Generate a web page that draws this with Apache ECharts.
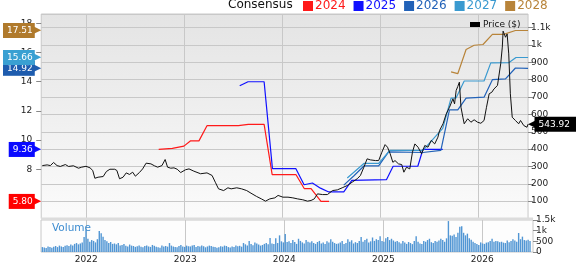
<!DOCTYPE html>
<html>
<head>
<meta charset="utf-8">
<script src="https://cdn.jsdelivr.net/npm/echarts@6/dist/echarts.min.js"></script>
<style>
  html, body { margin: 0; padding: 0; background: #fff; }
  #chart { width: 579px; height: 264px; }
</style>
</head>
<body>
<div id="chart"></div>
<script>
// share price ($)
const priceData = [
  ['2021-07-22', 305], ['2021-08-09', 309], ['2021-08-21', 305], ['2021-09-02', 323], ['2021-09-15', 305],
  ['2021-09-27', 300], ['2021-10-16', 311], ['2021-10-28', 300], ['2021-11-15', 304], ['2021-12-04', 290],
  ['2021-12-16', 296], ['2022-01-01', 301], ['2022-01-16', 292], ['2022-01-26', 277], ['2022-02-03', 232],
  ['2022-02-15', 238], ['2022-03-06', 242], ['2022-03-18', 271], ['2022-03-31', 284], ['2022-04-18', 284],
  ['2022-04-26', 277], ['2022-05-06', 229], ['2022-05-19', 238], ['2022-05-31', 263], ['2022-06-12', 254],
  ['2022-06-24', 267], ['2022-07-04', 244], ['2022-07-19', 265], ['2022-07-31', 286], ['2022-08-13', 319],
  ['2022-08-31', 315], ['2022-09-13', 304], ['2022-09-25', 296], ['2022-10-11', 305], ['2022-10-23', 340],
  ['2022-11-01', 296], ['2022-11-13', 290], ['2022-11-25', 292], ['2022-12-07', 284], ['2022-12-20', 265],
  ['2023-01-07', 281], ['2023-01-20', 286], ['2023-02-07', 273], ['2023-03-04', 258], ['2023-03-28', 263],
  ['2023-04-16', 248], ['2023-04-28', 209], ['2023-05-10', 171], ['2023-05-29', 161], ['2023-06-14', 177],
  ['2023-06-26', 171], ['2023-07-17', 177], ['2023-08-04', 171], ['2023-08-23', 161], ['2023-09-08', 146],
  ['2023-09-29', 127], ['2023-10-17', 113], ['2023-11-01', 100], ['2023-11-17', 113], ['2023-12-06', 119],
  ['2023-12-18', 133], ['2024-01-05', 123], ['2024-01-24', 123], ['2024-02-11', 119], ['2024-02-29', 113],
  ['2024-03-19', 108], ['2024-04-06', 100], ['2024-04-19', 104], ['2024-05-01', 113], ['2024-05-13', 142],
  ['2024-06-01', 138], ['2024-06-19', 138], ['2024-07-08', 161], ['2024-07-26', 165], ['2024-08-13', 177],
  ['2024-09-01', 190], ['2024-09-19', 209], ['2024-10-08', 229], ['2024-10-20', 248], ['2024-11-02', 296],
  ['2024-11-14', 344], ['2024-11-26', 338], ['2024-12-15', 334], ['2024-12-27', 334], ['2025-01-08', 382],
  ['2025-01-20', 426], ['2025-01-29', 411], ['2025-02-08', 373], ['2025-02-18', 324], ['2025-02-26', 334],
  ['2025-03-11', 315], ['2025-03-23', 311], ['2025-03-31', 267], ['2025-04-10', 296], ['2025-04-22', 286],
  ['2025-05-02', 382], ['2025-05-11', 430], ['2025-05-23', 411], ['2025-06-05', 373], ['2025-06-17', 421],
  ['2025-06-29', 411], ['2025-07-11', 450], ['2025-07-24', 430], ['2025-08-05', 469], ['2025-08-11', 507],
  ['2025-08-24', 546], ['2025-09-05', 603], ['2025-09-17', 641], ['2025-09-30', 690], ['2025-10-06', 661],
  ['2025-10-12', 738], ['2025-10-18', 761], ['2025-10-24', 786], ['2025-10-30', 641], ['2025-11-06', 584],
  ['2025-11-11', 546], ['2025-11-24', 575], ['2025-12-06', 555], ['2025-12-18', 569], ['2025-12-31', 555],
  ['2026-01-12', 549], ['2026-01-24', 565], ['2026-02-02', 641], ['2026-02-12', 719], ['2026-02-22', 728],
  ['2026-03-02', 747], ['2026-03-15', 767], ['2026-03-27', 892], ['2026-04-02', 988], ['2026-04-05', 1080],
  ['2026-04-14', 1045], ['2026-04-20', 1064], ['2026-04-26', 949], ['2026-05-02', 719], ['2026-05-09', 584],
  ['2026-05-21', 565], ['2026-06-02', 546], ['2026-06-09', 565], ['2026-06-21', 536], ['2026-07-03', 526],
  ['2026-07-07', 543.92]
];

// consensus EPS estimates per fiscal year
const eps2024 = [
  ['2022-09-29', 9.36], ['2022-11-19', 9.43], ['2023-01-01', 9.59], ['2023-01-26', 9.95], ['2023-02-26', 9.95],
  ['2023-03-28', 10.99], ['2023-07-23', 10.99], ['2023-08-29', 11.08], ['2023-10-27', 11.08], ['2023-11-26', 7.63],
  ['2024-02-23', 7.63], ['2024-03-25', 6.67], ['2024-04-19', 6.67], ['2024-05-26', 5.81], ['2024-06-25', 5.80]
];
const eps2025 = [
  ['2023-07-28', 13.72], ['2023-08-28', 14.0], ['2023-10-27', 14.0], ['2023-11-27', 8.05], ['2024-02-22', 8.05],
  ['2024-03-24', 6.94], ['2024-04-24', 7.06], ['2024-05-24', 6.71], ['2024-06-24', 6.45], ['2024-08-19', 6.45],
  ['2024-09-18', 7.24], ['2025-01-25', 7.29], ['2025-02-19', 8.21], ['2025-05-22', 8.21], ['2025-06-10', 9.36],
  ['2025-08-23', 9.36]
];
const eps2026 = [
  ['2024-08-19', 6.92], ['2024-09-26', 7.56], ['2024-11-02', 8.23], ['2024-12-27', 8.23], ['2025-02-02', 9.2],
  ['2025-06-10', 9.15], ['2025-08-16', 9.3], ['2025-09-17', 12.07], ['2025-10-18', 12.07], ['2025-11-18', 12.88],
  ['2026-01-24', 12.94], ['2026-02-24', 14.14], ['2026-04-14', 14.19], ['2026-05-21', 14.94], ['2026-07-07', 14.92]
];
const eps2027 = [
  ['2024-09-01', 7.4], ['2024-11-02', 8.4], ['2024-12-27', 8.4], ['2025-02-07', 9.3], ['2025-06-10', 9.3],
  ['2025-08-23', 10.8], ['2025-09-23', 12.88], ['2025-10-12', 12.9], ['2025-11-11', 14.05], ['2026-01-24', 14.05],
  ['2026-02-18', 15.29], ['2026-04-26', 15.3], ['2026-05-23', 15.66], ['2026-07-07', 15.66]
];
const eps2028 = [
  ['2025-09-23', 14.67], ['2025-10-18', 14.55], ['2025-11-18', 16.21], ['2025-12-18', 16.5], ['2026-01-20', 16.55],
  ['2026-02-24', 17.24], ['2026-04-07', 17.24], ['2026-05-21', 17.51], ['2026-07-07', 17.51]
];

// weekly volume (thousands), first bar week of 2021-07-23
const volStart = '2021-07-23';
const volValues = [
  230, 210, 190, 260, 240, 200, 250, 280, 230, 300, 260, 240, 290,
  320, 280, 350, 300, 380, 420, 360, 400, 450, 700, 1040, 620, 480,
  560, 520, 450, 600, 990, 880, 720, 560, 500, 420, 470, 380, 400,
  360, 420, 300, 330, 380, 290, 260, 350, 300, 280, 240, 270, 300,
  250, 220, 280, 300, 260, 240, 330, 290, 250, 220, 200, 310, 260,
  280, 250, 420, 300, 260, 240, 220, 280, 330, 260, 240, 300, 270,
  260, 300, 330, 240, 280, 260, 310, 270, 220, 260, 300, 280, 250,
  240, 200, 220, 270, 250, 300, 280, 230, 210, 260, 240, 300, 270,
  290, 250, 420, 360, 300, 520, 380, 320, 450, 400, 350, 300, 330,
  380, 420, 360, 660, 400, 380, 640, 420, 780, 500, 450, 840, 470,
  500, 420, 560, 470, 380, 620, 520, 450, 400, 560, 480, 440, 500,
  420, 380, 470, 520, 400, 450, 380, 500, 440, 600, 480, 420, 380,
  400, 450, 520, 380, 420, 600, 480, 550, 400, 460, 420, 520, 700,
  480, 560, 620, 450, 500, 680, 520, 600, 560, 740, 520, 480, 640,
  700, 560, 620, 540, 480, 520, 460, 400, 520, 440, 380, 470, 420,
  370, 520, 740, 480, 400, 370, 520, 480, 560, 620, 460, 420, 510,
  480, 540, 620, 560, 480, 640, 1450, 780, 760, 820, 700, 900, 1180,
  1210, 900, 780, 860, 640, 580, 480, 420, 380, 330, 450, 400, 380,
  440, 460, 520, 620, 480, 520, 500, 460, 480, 440, 420, 540, 460,
  520, 600, 540, 480, 890, 600, 720, 560, 540, 580, 520
];

const yearTicks = ['2022-01-01', '2023-01-01', '2024-01-01', '2025-01-01', '2026-01-01'];
const epsTicks = [8, 10, 12, 14, 16, 18];

const FONT = 'DejaVu Sans';
const colors = { '2024': '#ff1a1a', '2025': '#1010ff', '2026': '#2262b8', '2027': '#3a9ad0', '2028': '#b8843a' };
const tagColors = { '2024': '#ff0000', '2025': '#0a0aff', '2026': '#1e5cae', '2027': '#3aa0d2', '2028': '#b07a2c' };

const t = s => +new Date(s + 'T00:00:00Z');
const xMin = t('2021-07-18');
const xMax = t('2026-07-07');
const yearValues = yearTicks.map(t);

const volDates = volValues.map((v, i) => t(volStart) + i * 7 * 86400000);

const epsSeries = { '2024': eps2024, '2025': eps2025, '2026': eps2026, '2027': eps2027, '2028': eps2028 };
const tags = Object.keys(epsSeries).map(k => ({ key: k, v: epsSeries[k][epsSeries[k].length - 1][1] }));
const lastPrice = priceData[priceData.length - 1][1];

const tagRich = {};
tags.forEach((tg, i) => {
  tagRich['b' + i] = { backgroundColor: tagColors[tg.key], color: '#fff', fontSize: 9, fontFamily: FONT,
    padding: [2, 2, 1, 4], lineHeight: 12, height: 12 };
  tagRich['a' + i] = { color: tagColors[tg.key], fontSize: 11, fontFamily: FONT, padding: [0, 0, 0, -2] };
});

const chart = echarts.init(document.getElementById('chart'));

const epsMin = 4.63, epsMax = 18.64;

chart.setOption({
  animation: false,
  textStyle: { fontFamily: FONT },
  title: [
    { text: 'Consensus', left: 228, top: -1, padding: 0,
      textStyle: { fontSize: 12, fontWeight: 'normal', color: '#111', fontFamily: FONT } },
    { text: 'Volume', left: 52, top: 223, padding: 0,
      textStyle: { fontSize: 10.5, fontWeight: 'normal', color: '#3d8cd0', fontFamily: FONT } }
  ],
  legend: [
    {
      left: 303, top: 0, padding: 0, icon: 'rect', itemWidth: 10, itemHeight: 10, itemGap: 8,
      selectedMode: false,
      textStyle: { fontSize: 12, fontFamily: FONT, padding: [0, 0, 0, -3] },
      data: Object.keys(colors).map(k => ({ name: k, textStyle: { color: colors[k] } }))
    },
    {
      left: 470, top: 20, padding: 0, icon: 'rect', itemWidth: 10, itemHeight: 5,
      selectedMode: false,
      textStyle: { fontSize: 9, color: '#111', fontFamily: FONT, padding: [0, 0, 0, -2] },
      data: ['Price ($)']
    }
  ],
  graphic: [
    { type: 'rect', shape: { x: 41, y: 217.5, width: 492, height: 2.5 }, style: { fill: '#dcdcdc' }, z: 50 }
  ],
  grid: [
    { left: 41, top: 14, width: 492, height: 204.5, show: true, borderColor: '#c8c8c8', borderWidth: 1,
      backgroundColor: new echarts.graphic.LinearGradient(0, 0, 0, 1, [
        { offset: 0, color: '#e4e4e4' }, { offset: 1, color: '#fbfbfb' }
      ]) },
    { left: 41, top: 220, width: 492, height: 33.5, show: true, borderColor: '#c8c8c8', borderWidth: 1,
      backgroundColor: '#fdfdfd' }
  ],
  xAxis: [
    { type: 'value', gridIndex: 0, min: xMin, max: xMax,
      axisLine: { show: false },
      axisTick: { show: false, customValues: yearValues },
      axisLabel: { show: false },
      splitLine: { show: true, lineStyle: { color: '#c8c8c8', width: 1 } } },
    { type: 'value', gridIndex: 1, min: xMin, max: xMax,
      axisLine: { show: false },
      axisTick: { show: false, customValues: yearValues },
      axisLabel: { show: true, customValues: yearValues, margin: 3, fontSize: 9, color: '#222',
        fontFamily: FONT, formatter: v => String(new Date(v).getUTCFullYear()) },
      splitLine: { show: true, lineStyle: { color: '#c8c8c8', width: 1 } } }
  ],
  yAxis: [
    // price, right side
    { type: 'value', gridIndex: 0, position: 'right', min: 0, max: 1179, interval: 100,
      axisLine: { show: false },
      axisTick: { show: true, length: 5, lineStyle: { color: '#888' } },
      axisLabel: { margin: 3, fontSize: 9, color: '#222', fontFamily: FONT, showMaxLabel: false,
        formatter: v => v === 0 ? '' : (v >= 1000 ? (v / 1000) + 'k' : String(v)) },
      splitLine: { show: true, lineStyle: { color: '#c8c8c8', width: 1 } } },
    // EPS, left side
    { type: 'value', gridIndex: 0, position: 'left', min: epsMin, max: epsMax,
      axisLine: { show: false },
      axisTick: { show: true, length: 5, customValues: epsTicks, lineStyle: { color: '#888' } },
      axisLabel: { customValues: epsTicks, margin: 9, fontSize: 9, color: '#222', fontFamily: FONT },
      splitLine: { show: false } },
    // EPS last-value tags
    { type: 'value', gridIndex: 0, position: 'left', min: epsMin, max: epsMax, z: 20,
      axisLine: { show: false }, axisTick: { show: false }, splitLine: { show: false },
      axisLabel: { customValues: tags.map(tg => tg.v), margin: 0, rich: tagRich,
        formatter: v => {
          const i = tags.findIndex(tg => Math.abs(tg.v - v) < 1e-9);
          return '{b' + i + '|' + v.toFixed(2) + '}{a' + i + '|\u25B6}';
        } } },
    // price last-value tag
    { type: 'value', gridIndex: 0, position: 'right', min: 0, max: 1179, z: 20,
      axisLine: { show: false }, axisTick: { show: false }, splitLine: { show: false },
      axisLabel: { customValues: [lastPrice], margin: 0,
        formatter: v => '{a|\u25C0}{b|' + v.toFixed(2) + '}',
        rich: {
          a: { color: '#000', fontSize: 11, fontFamily: FONT, padding: [0, -2, 0, 0] },
          b: { backgroundColor: '#000', color: '#fff', fontSize: 9, fontFamily: FONT, padding: [2, 6, 1, 4],
            lineHeight: 12, height: 12 }
        } } },
    // volume
    { type: 'value', gridIndex: 1, position: 'right', min: 0, max: 1500, interval: 500,
      axisLine: { show: false },
      axisTick: { show: true, length: 5, lineStyle: { color: '#888' } },
      axisLabel: { margin: 3, fontSize: 9, color: '#222', fontFamily: FONT,
        formatter: v => v >= 1000 ? (v / 1000) + 'k' : String(v) },
      splitLine: { show: false } }
  ],
  series: [
    { name: 'Volume', type: 'bar', xAxisIndex: 1, yAxisIndex: 4, barWidth: 1.4,
      itemStyle: { color: '#5196d4' },
      data: volValues.map((v, i) => [volDates[i], v]) },
    ...Object.keys(epsSeries).map(k => ({
      name: k, type: 'line', xAxisIndex: 0, yAxisIndex: 1, symbol: 'none', z: 3,
      lineStyle: { color: colors[k], width: 1.2 }, itemStyle: { color: colors[k] },
      data: epsSeries[k].map(d => [t(d[0]), d[1]])
    })),
    { name: 'Price ($)', type: 'line', xAxisIndex: 0, yAxisIndex: 0, symbol: 'none', z: 4,
      lineStyle: { color: '#111', width: 1 }, itemStyle: { color: '#000' },
      data: priceData.map(d => [t(d[0]), d[1]]) }
  ]
});
</script>
</body>
</html>
